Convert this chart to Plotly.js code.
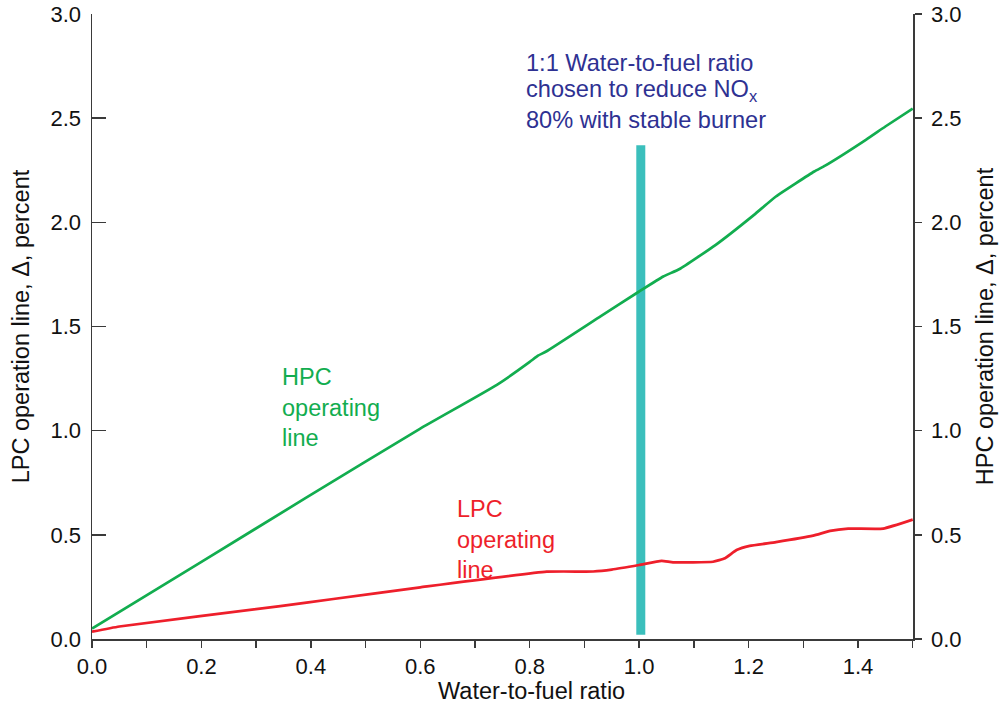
<!DOCTYPE html>
<html>
<head>
<meta charset="utf-8">
<script src="https://cdn.plot.ly/plotly-3.0.1.min.js"></script>
<style>html,body{margin:0;padding:0;background:#fff;}#chart{width:1001px;height:706px;}</style>
</head>
<body>
<div id="chart"></div>
<script>
// Water-to-fuel ratio (x) and operating-line shifts (percent)
var hpcX = [0.0, 0.2, 0.39, 0.6, 0.74, 0.8, 0.815, 0.83, 0.93, 1.0, 1.044, 1.074, 1.14, 1.21, 1.25, 1.32, 1.34, 1.415, 1.45, 1.5];
var hpcY = [0.05, 0.37, 0.676, 1.01, 1.22, 1.33, 1.36, 1.38, 1.55, 1.668, 1.74, 1.776, 1.892, 2.036, 2.124, 2.244, 2.272, 2.397, 2.46, 2.546];

var lpcX = [0.0, 0.05, 0.344, 0.441, 0.6, 0.831, 0.916, 0.95, 1.0, 1.041, 1.062, 1.135, 1.157, 1.178, 1.202, 1.25, 1.318, 1.349, 1.382, 1.446, 1.5];
var lpcY = [0.035, 0.06, 0.158, 0.192, 0.248, 0.323, 0.324, 0.333, 0.355, 0.375, 0.368, 0.371, 0.388, 0.427, 0.447, 0.465, 0.496, 0.519, 0.53, 0.53, 0.573];

// chosen ratio marker
var chosenX = [1.003, 1.003];
var chosenY = [0.02, 2.37];

var yTickVals = [0, 0.5, 1.0, 1.5, 2.0, 2.5, 3.0];
var yTickText = ['0.0', '0.5', '1.0', '1.5', '2.0', '2.5', '3.0'];
var xTickVals = [0, 0.2, 0.4, 0.6, 0.8, 1.0, 1.2, 1.4];
var xTickText = ['0.0', '0.2', '0.4', '0.6', '0.8', '1.0', '1.2', '1.4'];
var xMinorVals = [0.1, 0.3, 0.5, 0.7, 0.9, 1.1, 1.3, 1.5];

var noteLines = ['1:1 Water-to-fuel ratio', 'chosen to reduce NO<sub>x</sub>', '80% with stable burner'];
var hpcLabel = ['HPC', 'operating', 'line'];
var lpcLabel = ['LPC', 'operating', 'line'];

var FONT = 'Liberation Sans, Arial, Helvetica, sans-serif';
var GREEN = '#12ad4f', RED = '#ee1f2b', CYAN = '#3bbfbc', BLUE = '#2e3192', AX = '#3a3a3a';

var traces = [
  {x: chosenX, y: chosenY, type: 'scatter', mode: 'lines', line: {color: CYAN, width: 9}, hoverinfo: 'skip', showlegend: false},
  {x: lpcX, y: lpcY, type: 'scatter', mode: 'lines', line: {color: RED, width: 2.7, shape: 'spline', smoothing: 0.4}, name: 'LPC', showlegend: false},
  {x: hpcX, y: hpcY, yaxis: 'y2', type: 'scatter', mode: 'lines', line: {color: GREEN, width: 2.7, shape: 'spline', smoothing: 0.4}, name: 'HPC', showlegend: false}
];

var annotations = [
  {xref: 'paper', yref: 'paper', x: (531 - 92) / 821, y: -0.083, xanchor: 'center', yanchor: 'middle', showarrow: false,
   text: 'Water-to-fuel ratio', font: {size: 23.5, family: FONT, color: '#111'}},
  {xref: 'x', yref: 'y', x: 0.344, y: 1.11, xanchor: 'left', yanchor: 'middle', align: 'left', showarrow: false,
   text: hpcLabel.join('<br>'), font: {size: 23.5, family: FONT, color: GREEN}},
  {xref: 'x', yref: 'y', x: 0.664, y: 0.476, xanchor: 'left', yanchor: 'middle', align: 'left', showarrow: false,
   text: lpcLabel.join('<br>'), font: {size: 23.5, family: FONT, color: RED}}
];
// note: one annotation per line, lines ~28.5 px apart
var noteTopY = (639 - 63) / 208.2;
var noteStep = 28.5 / 208.2;
noteLines.forEach(function (t, i) {
  annotations.push({xref: 'x', yref: 'y', x: 0.79, y: noteTopY - i * noteStep, xanchor: 'left', yanchor: 'middle',
    align: 'left', showarrow: false, text: t, font: {size: 23.6, family: FONT, color: BLUE}});
});

var layout = {
  width: 1001, height: 706,
  margin: {l: 92, r: 88, t: 14, b: 67, pad: 0},
  paper_bgcolor: '#fff', plot_bgcolor: '#fff',
  font: {family: FONT, size: 22, color: '#111'},
  showlegend: false,
  xaxis: {
    range: [0, 1.5005], showgrid: false, zeroline: false,
    showline: true, linecolor: AX, linewidth: 1.5,
    ticks: 'outside', ticklen: 7, tickwidth: 1.5, tickcolor: AX,
    tickvals: xTickVals, ticktext: xTickText,
    tickfont: {size: 22, family: FONT, color: '#111'},
    minor: {tickvals: xMinorVals, ticks: 'outside', ticklen: 7, tickwidth: 1.5, tickcolor: AX}
  },
  yaxis: {
    range: [0, 3], showgrid: false, zeroline: false,
    showline: true, linecolor: AX, linewidth: 1.5,
    ticks: 'inside', ticklen: 14, tickwidth: 1.5, tickcolor: AX,
    tickvals: yTickVals, ticktext: yTickText,
    tickfont: {size: 22, family: FONT, color: '#111'},
    ticklabelstandoff: 5,
    title: {text: 'LPC operation line, \u0394, percent', font: {size: 23.5, family: FONT, color: '#111'}, standoff: 14}
  },
  yaxis2: {
    range: [0, 3], overlaying: 'y', side: 'right', showgrid: false, zeroline: false,
    showline: true, linecolor: AX, linewidth: 1.5,
    ticks: 'outside', ticklen: 7, tickwidth: 1.5, tickcolor: AX,
    tickvals: yTickVals, ticktext: yTickText,
    tickfont: {size: 22, family: FONT, color: '#111'},
    ticklabelstandoff: 5,
    title: {text: 'HPC operation line, \u0394, percent', font: {size: 23.5, family: FONT, color: '#111'}, standoff: 16}
  },
  annotations: annotations
};

Plotly.newPlot('chart', traces, layout, {displayModeBar: false, staticPlot: true});
</script>
</body>
</html>
